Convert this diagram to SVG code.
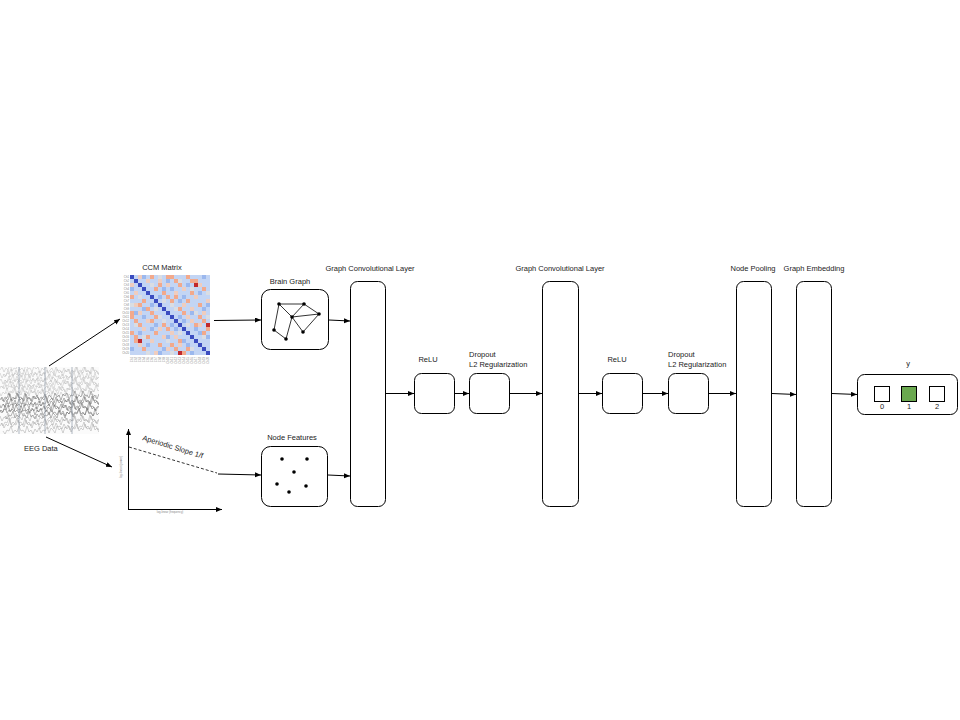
<svg xmlns="http://www.w3.org/2000/svg" xmlns:xlink="http://www.w3.org/1999/xlink" width="960" height="720" viewBox="0 0 960 720">
<style>
text{font-family:"Liberation Sans",Arial,sans-serif;font-size:7.5px;fill:#222}
.c{text-anchor:middle}
.box{fill:#fff;stroke:#000;stroke-width:1}
.ln{stroke:#000;stroke-width:1;fill:none}
.m rect{width:4px;height:4px;stroke:none}
.d{fill:#3b4cc0}.s{fill:#f2a98c}.ls{fill:#efcdbf}.mb{fill:#9bb8ee}.g{fill:#dadde3}.r{fill:#c0282d}
text.tiny,.tiny text{font-size:2.8px;fill:#888}
.tr{fill:none;stroke-width:0.5}
</style>
<defs>
<marker id="ah" markerUnits="userSpaceOnUse" markerWidth="7" markerHeight="6" refX="6" refY="2.5" orient="auto">
<path d="M0,0 L6,2.5 L0,5 z" fill="#000"/>
</marker>
<path id="tr" d="M0,0 l2,-3 2,5 2,-4 2,2 2,-6 2,7 2,-3 2,1 2,-5 2,6 2,-2 2,3 2,-7 2,5 2,-1 2,4 2,-6 2,3 2,-2 2,6 2,-5 2,2 2,-4 2,7 2,-3 2,-2 2,5 2,-6 2,4 2,-1 2,3 2,-5 2,4 2,-3 2,5 2,-4 2,2 2,-6 2,7 2,-3 2,1 2,-5 2,6 2,-2 2,3 2,-7 2,5 2,-1 2,4 2,-3"/>
<clipPath id="eegclip"><rect x="0" y="367" width="99" height="67"/></clipPath>
</defs>

<!-- EEG Data -->
<g id="eeg">
<g clip-path="url(#eegclip)">
<rect x="0" y="367" width="99" height="67" fill="#fbfbfb"/>
<g class="tr" stroke="#bdbdbd">
<use href="#tr" x="0" y="370"/>
<use href="#tr" x="-4" y="373" transform="translate(99,0) scale(-1,1)"/>
<use href="#tr" x="-2" y="376"/>
<use href="#tr" x="-6" y="379" transform="translate(99,0) scale(-1,1)"/>
<use href="#tr" x="-1" y="382"/>
<use href="#tr" x="-3" y="385" transform="translate(99,0) scale(-1,1)"/>
<use href="#tr" x="-5" y="388"/>
<use href="#tr" x="-7" y="391" transform="translate(99,0) scale(-1,1)"/>
<use href="#tr" x="-3" y="394"/>
</g>
<g class="tr" stroke="#6a6a6a">
<use href="#tr" x="-2" y="397" transform="translate(99,0) scale(-1,1)"/>
<use href="#tr" x="0" y="400"/>
<use href="#tr" x="-4" y="403" transform="translate(99,0) scale(-1,1)"/>
<use href="#tr" x="-3" y="406"/>
<use href="#tr" x="-1" y="409" transform="translate(99,0) scale(-1,1)"/>
<use href="#tr" x="-5" y="412"/>
<use href="#tr" x="-6" y="415" transform="translate(99,0) scale(-1,1)"/>
</g>
<g class="tr" stroke="#a5a5a5">
<use href="#tr" x="-2" y="419"/>
<use href="#tr" x="-2" y="422" transform="translate(99,0) scale(-1,1)"/>
<use href="#tr" x="0" y="426"/>
<use href="#tr" x="-4" y="430" transform="translate(99,0) scale(-1,1)"/>
</g>
<g stroke="#7d8a9a" stroke-width="0.6">
<line x1="19" y1="367" x2="19" y2="434"/>
<line x1="45" y1="367" x2="45" y2="434"/>
<line x1="72" y1="367" x2="72" y2="434"/>
</g>
</g>
<text x="24" y="451">EEG Data</text>
</g>

<!-- CCM Matrix -->
<g id="ccm">
<text class="c" x="162" y="270">CCM Matrix</text>
<rect x="130" y="275" width="80" height="80" fill="#c3d5f4"/>
<g class="m">
<g class="s">
<rect x="150" y="275"/><rect x="130" y="295"/>
<rect x="166" y="275"/><rect x="130" y="311"/>
<rect x="170" y="275"/><rect x="130" y="315"/>
<rect x="190" y="279"/><rect x="134" y="335"/>
<rect x="194" y="279"/><rect x="134" y="339"/>
<rect x="158" y="283"/><rect x="138" y="303"/>
<rect x="154" y="287"/><rect x="142" y="299"/>
<rect x="162" y="291"/><rect x="146" y="307"/>
<rect x="174" y="295"/><rect x="150" y="319"/>
<rect x="186" y="299"/><rect x="154" y="331"/>
<rect x="198" y="303"/><rect x="158" y="343"/>
<rect x="178" y="307"/><rect x="162" y="323"/>
<rect x="182" y="311"/><rect x="166" y="327"/>
<rect x="202" y="287"/><rect x="142" y="347"/>
<rect x="198" y="315"/><rect x="170" y="343"/>
<rect x="202" y="319"/><rect x="174" y="347"/>
<rect x="186" y="275"/><rect x="130" y="331"/>
<rect x="178" y="283"/><rect x="138" y="323"/>
<rect x="190" y="291"/><rect x="146" y="335"/>
<rect x="166" y="295"/><rect x="150" y="311"/>
<rect x="194" y="323"/><rect x="178" y="339"/>
<rect x="206" y="327"/><rect x="182" y="351"/>
<rect x="202" y="331"/><rect x="186" y="347"/>
<rect x="170" y="299"/><rect x="154" y="315"/>
<rect x="174" y="279"/><rect x="134" y="319"/>
</g>
<g class="ls">
<rect x="138" y="275"/><rect x="130" y="283"/>
<rect x="158" y="279"/><rect x="134" y="303"/>
<rect x="166" y="283"/><rect x="138" y="311"/>
<rect x="182" y="287"/><rect x="142" y="327"/>
<rect x="174" y="291"/><rect x="146" y="319"/>
<rect x="194" y="295"/><rect x="150" y="339"/>
<rect x="206" y="299"/><rect x="154" y="351"/>
<rect x="182" y="303"/><rect x="158" y="327"/>
<rect x="190" y="307"/><rect x="162" y="335"/>
<rect x="202" y="311"/><rect x="166" y="347"/>
<rect x="186" y="315"/><rect x="170" y="331"/>
<rect x="190" y="319"/><rect x="174" y="335"/>
<rect x="198" y="323"/><rect x="178" y="343"/>
<rect x="146" y="279"/><rect x="134" y="291"/>
<rect x="198" y="283"/><rect x="138" y="343"/>
</g>
<g class="mb">
<rect x="142" y="275"/><rect x="130" y="287"/>
<rect x="166" y="279"/><rect x="134" y="311"/>
<rect x="186" y="283"/><rect x="138" y="331"/>
<rect x="170" y="287"/><rect x="142" y="315"/>
<rect x="198" y="291"/><rect x="146" y="343"/>
<rect x="158" y="295"/><rect x="150" y="303"/>
<rect x="178" y="299"/><rect x="154" y="323"/>
<rect x="206" y="303"/><rect x="158" y="351"/>
<rect x="202" y="307"/><rect x="162" y="347"/>
<rect x="190" y="311"/><rect x="166" y="335"/>
<rect x="178" y="315"/><rect x="170" y="323"/>
<rect x="182" y="319"/><rect x="174" y="327"/>
<rect x="194" y="327"/><rect x="182" y="339"/>
<rect x="198" y="331"/><rect x="186" y="343"/>
<rect x="206" y="335"/><rect x="190" y="351"/>
<rect x="202" y="275"/><rect x="130" y="347"/>
<rect x="162" y="287"/><rect x="142" y="307"/>
<rect x="182" y="295"/><rect x="150" y="327"/>
</g>
<g class="g">
<rect x="158" y="275"/><rect x="130" y="303"/>
<rect x="178" y="279"/><rect x="134" y="323"/>
<rect x="150" y="283"/><rect x="138" y="295"/>
<rect x="190" y="287"/><rect x="142" y="335"/>
<rect x="206" y="291"/><rect x="146" y="351"/>
<rect x="162" y="299"/><rect x="154" y="307"/>
<rect x="170" y="303"/><rect x="158" y="315"/>
<rect x="174" y="307"/><rect x="162" y="319"/>
<rect x="194" y="311"/><rect x="166" y="339"/>
<rect x="186" y="323"/><rect x="178" y="331"/>
<rect x="202" y="335"/><rect x="190" y="347"/>
<rect x="206" y="315"/><rect x="170" y="351"/>
</g>
<g class="r">
<rect x="194" y="283"/><rect x="138" y="339"/>
<rect x="206" y="323"/><rect x="178" y="351"/>
</g>
<g class="d">
<rect x="130" y="275"/><rect x="134" y="279"/><rect x="138" y="283"/><rect x="142" y="287"/>
<rect x="146" y="291"/><rect x="150" y="295"/><rect x="154" y="299"/><rect x="158" y="303"/>
<rect x="162" y="307"/><rect x="166" y="311"/><rect x="170" y="315"/><rect x="174" y="319"/>
<rect x="178" y="323"/><rect x="182" y="327"/><rect x="186" y="331"/><rect x="190" y="335"/>
<rect x="194" y="339"/><rect x="198" y="343"/><rect x="202" y="347"/><rect x="206" y="351"/>
</g>
</g>
<g class="tiny" text-anchor="end">
<text x="129" y="278">Ch1</text><text x="129" y="282">Ch2</text><text x="129" y="286">Ch3</text><text x="129" y="290">Ch4</text>
<text x="129" y="294">Ch5</text><text x="129" y="298">Ch6</text><text x="129" y="302">Ch7</text><text x="129" y="306">Ch8</text>
<text x="129" y="310">Ch9</text><text x="129" y="314">Ch10</text><text x="129" y="318">Ch11</text><text x="129" y="322">Ch12</text>
<text x="129" y="326">Ch13</text><text x="129" y="330">Ch14</text><text x="129" y="334">Ch15</text><text x="129" y="338">Ch16</text>
<text x="129" y="342">Ch17</text><text x="129" y="346">Ch18</text><text x="129" y="350">Ch19</text><text x="129" y="354">Ch20</text>
</g>
<g class="tiny" text-anchor="end">
<text transform="translate(133,357) rotate(-90)">Ch1</text><text transform="translate(137,357) rotate(-90)">Ch2</text>
<text transform="translate(141,357) rotate(-90)">Ch3</text><text transform="translate(145,357) rotate(-90)">Ch4</text>
<text transform="translate(149,357) rotate(-90)">Ch5</text><text transform="translate(153,357) rotate(-90)">Ch6</text>
<text transform="translate(157,357) rotate(-90)">Ch7</text><text transform="translate(161,357) rotate(-90)">Ch8</text>
<text transform="translate(165,357) rotate(-90)">Ch9</text><text transform="translate(169,357) rotate(-90)">Ch10</text>
<text transform="translate(173,357) rotate(-90)">Ch11</text><text transform="translate(177,357) rotate(-90)">Ch12</text>
<text transform="translate(181,357) rotate(-90)">Ch13</text><text transform="translate(185,357) rotate(-90)">Ch14</text>
<text transform="translate(189,357) rotate(-90)">Ch15</text><text transform="translate(193,357) rotate(-90)">Ch16</text>
<text transform="translate(197,357) rotate(-90)">Ch17</text><text transform="translate(201,357) rotate(-90)">Ch18</text>
<text transform="translate(205,357) rotate(-90)">Ch19</text><text transform="translate(209,357) rotate(-90)">Ch20</text>
</g>
</g>

<!-- Aperiodic plot -->
<g id="aperiodic">
<line class="ln" x1="128.5" y1="509" x2="128.5" y2="429" marker-end="url(#ah)"/>
<line class="ln" x1="128" y1="509.5" x2="222" y2="509.5" marker-end="url(#ah)"/>
<line x1="129" y1="447" x2="217" y2="473" stroke="#000" stroke-width="0.8" stroke-dasharray="3,2"/>
<text transform="translate(142,440) rotate(17)" font-size="8">Aperiodic Slope 1/f</text>
<text class="tiny c" x="170" y="513">log-linear (frequency)</text>
<text class="tiny c" transform="translate(122,467) rotate(-90)">log-linear (power)</text>
</g>

<!-- Brain Graph -->
<g id="brain-graph">
<text class="c" x="290" y="284">Brain Graph</text>
<rect class="box" x="261.5" y="289.5" width="67" height="60" rx="9"/>
<g stroke="#000" stroke-width="0.8">
<line x1="279" y1="304" x2="304" y2="304"/>
<line x1="279" y1="304" x2="292" y2="317"/>
<line x1="304" y1="304" x2="292" y2="317"/>
<line x1="304" y1="304" x2="319" y2="314"/>
<line x1="292" y1="317" x2="319" y2="314"/>
<line x1="279" y1="304" x2="274" y2="330"/>
<line x1="274" y1="330" x2="286" y2="339"/>
<line x1="286" y1="339" x2="292" y2="317"/>
<line x1="292" y1="317" x2="303" y2="332"/>
<line x1="303" y1="332" x2="319" y2="314"/>
</g>
<g fill="#000">
<circle cx="279" cy="304" r="1.8"/><circle cx="304" cy="304" r="1.8"/><circle cx="319" cy="314" r="1.8"/>
<circle cx="292" cy="317" r="1.8"/><circle cx="274" cy="330" r="1.8"/><circle cx="286" cy="339" r="1.8"/>
<circle cx="303" cy="332" r="1.8"/>
</g>
</g>

<!-- Node Features -->
<g id="node-features">
<text class="c" x="292" y="440">Node Features</text>
<rect class="box" x="261.5" y="446.5" width="66" height="60" rx="9"/>
<g fill="#000">
<circle cx="282" cy="459" r="1.8"/><circle cx="307" cy="459" r="1.8"/><circle cx="294" cy="472" r="1.8"/>
<circle cx="277" cy="484" r="1.8"/><circle cx="306" cy="486" r="1.8"/><circle cx="289" cy="492" r="1.8"/>
</g>
</g>

<!-- Layers -->
<g id="gcl1">
<text class="c" x="370" y="271">Graph Convolutional Layer</text>
<rect class="box" x="350.5" y="281.5" width="35" height="225" rx="7"/>
</g>
<g id="relu1">
<text class="c" x="428" y="362">ReLU</text>
<rect class="box" x="414.5" y="373.5" width="40" height="40" rx="7"/>
</g>
<g id="dropout1">
<text x="469" y="357">Dropout</text>
<text x="469" y="366.5">L2 Regularization</text>
<rect class="box" x="469.5" y="373.5" width="40" height="40" rx="7"/>
</g>
<g id="gcl2">
<text class="c" x="560" y="271">Graph Convolutional Layer</text>
<rect class="box" x="542.5" y="281.5" width="36" height="225" rx="7"/>
</g>
<g id="relu2">
<text class="c" x="617" y="362">ReLU</text>
<rect class="box" x="602.5" y="373.5" width="40" height="40" rx="7"/>
</g>
<g id="dropout2">
<text x="668" y="357">Dropout</text>
<text x="668" y="366.5">L2 Regularization</text>
<rect class="box" x="668.5" y="373.5" width="40" height="40" rx="7"/>
</g>
<g id="node-pooling">
<text class="c" x="753" y="271">Node Pooling</text>
<rect class="box" x="736.5" y="281.5" width="35" height="225" rx="7"/>
</g>
<g id="graph-embedding">
<text class="c" x="814" y="271">Graph Embedding</text>
<rect class="box" x="796.5" y="281.5" width="35" height="225" rx="7"/>
</g>
<g id="output-y">
<text class="c" x="908" y="366" font-size="10">y</text>
<rect class="box" x="857.5" y="374.5" width="100" height="40" rx="7"/>
<rect x="874.5" y="386.5" width="15" height="15" fill="#fff" stroke="#000"/>
<rect x="901.5" y="386.5" width="15" height="15" fill="#6aa84f" stroke="#000"/>
<rect x="929.5" y="386.5" width="15" height="15" fill="#fff" stroke="#000"/>
<text class="c" x="882" y="409">0</text>
<text class="c" x="909" y="409">1</text>
<text class="c" x="937" y="409">2</text>
</g>

<!-- Connectors -->
<g id="connectors" class="ln">
<line x1="49" y1="366" x2="120" y2="319" marker-end="url(#ah)"/>
<line x1="46" y1="437" x2="112" y2="467" marker-end="url(#ah)"/>
<line x1="214" y1="320.5" x2="261" y2="320" marker-end="url(#ah)"/>
<line x1="218" y1="474" x2="261" y2="475" marker-end="url(#ah)"/>
<line x1="329" y1="320" x2="350" y2="321" marker-end="url(#ah)"/>
<line x1="328" y1="475" x2="350" y2="476" marker-end="url(#ah)"/>
<line x1="386" y1="393.5" x2="414" y2="393.5" marker-end="url(#ah)"/>
<line x1="455" y1="393.5" x2="469" y2="393.5" marker-end="url(#ah)"/>
<line x1="510" y1="393.5" x2="542" y2="393.5" marker-end="url(#ah)"/>
<line x1="579" y1="393.5" x2="602" y2="393.5" marker-end="url(#ah)"/>
<line x1="643" y1="393.5" x2="668" y2="393.5" marker-end="url(#ah)"/>
<line x1="709" y1="393.5" x2="736" y2="393.5" marker-end="url(#ah)"/>
<line x1="772" y1="393.5" x2="796" y2="394.5" marker-end="url(#ah)"/>
<line x1="832" y1="393.5" x2="857" y2="394.5" marker-end="url(#ah)"/>
</g>
</svg>
